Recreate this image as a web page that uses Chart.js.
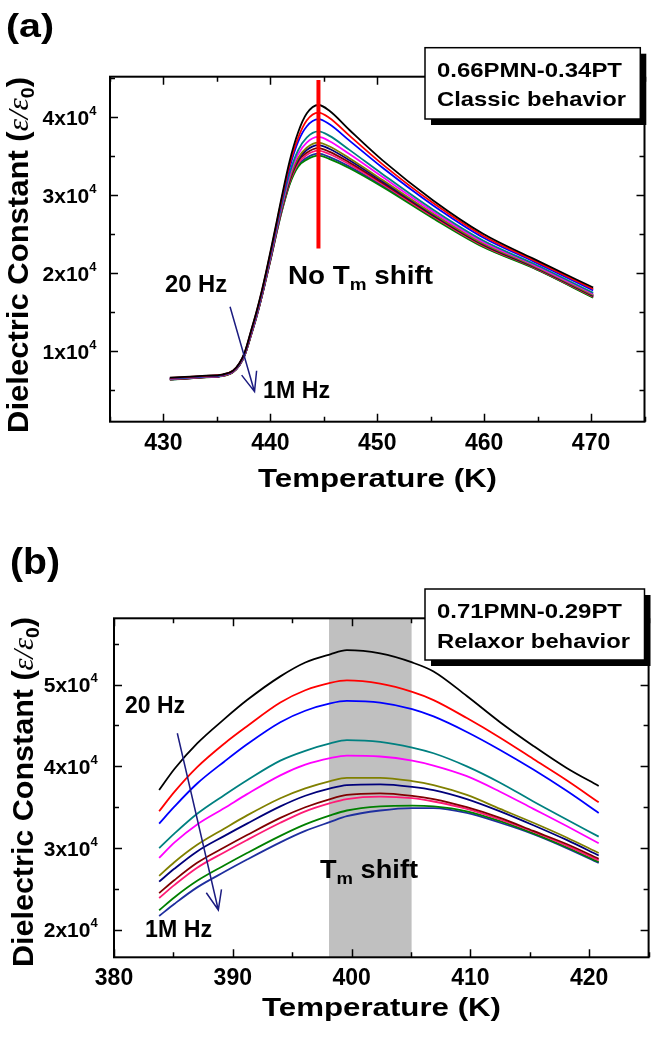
<!DOCTYPE html>
<html>
<head>
<meta charset="utf-8">
<script src="https://cdn.jsdelivr.net/npm/chart.js@4"></script>
<style>
  body { margin: 0; background: #fff; }
  canvas { position: absolute; left: 0; }
</style>
</head>
<body>
<canvas id="chartA" width="652" height="520" style="top:0"></canvas>
<canvas id="chartB" width="652" height="530" style="top:520px"></canvas>
<script>
// Dielectric constant in units of 10^4, curves from 20 Hz (top) to 1M Hz (bottom)

// (a) 0.66PMN-0.34PT
const aTemps = [430.6, 432, 434, 435.5, 436.5, 437.1, 437.6, 438.2, 438.7, 439.2, 439.6, 440.1, 440.6, 441.0, 441.8, 442.6, 443.4, 444.5, 445.5, 447.4, 450.5, 455.2, 459.9, 464.6, 470.2];
const aBlack   = [0.655, 0.665, 0.68, 0.695, 0.745, 0.84, 0.98, 1.26, 1.50, 1.77, 2.01, 2.33, 2.66, 2.93, 3.43, 3.80, 4.04, 4.15, 4.08, 3.83, 3.44, 2.93, 2.50, 2.18, 1.81];
const aRed     = [0.651, 0.661, 0.677, 0.692, 0.742, 0.836, 0.974, 1.251, 1.49, 1.758, 1.997, 2.312, 2.639, 2.903, 3.385, 3.73, 3.952, 4.053, 3.987, 3.757, 3.389, 2.896, 2.475, 2.162, 1.791];
const aBlue    = [0.648, 0.658, 0.674, 0.689, 0.739, 0.832, 0.969, 1.243, 1.48, 1.748, 1.985, 2.296, 2.621, 2.88, 3.346, 3.68, 3.875, 3.968, 3.906, 3.693, 3.345, 2.866, 2.452, 2.146, 1.774];
const aTeal    = [0.642, 0.652, 0.670, 0.685, 0.735, 0.824, 0.959, 1.229, 1.464, 1.728, 1.963, 2.268, 2.587, 2.836, 3.274, 3.57, 3.733, 3.812, 3.758, 3.575, 3.263, 2.81, 2.412, 2.118, 1.742];
const aMagenta = [0.639, 0.649, 0.667, 0.682, 0.732, 0.821, 0.955, 1.222, 1.456, 1.72, 1.953, 2.254, 2.572, 2.817, 3.241, 3.52, 3.668, 3.741, 3.689, 3.521, 3.226, 2.785, 2.393, 2.104, 1.728];
const aOlive   = [0.637, 0.647, 0.665, 0.680, 0.730, 0.818, 0.950, 1.216, 1.448, 1.711, 1.943, 2.241, 2.556, 2.797, 3.208, 3.47, 3.603, 3.669, 3.621, 3.467, 3.188, 2.76, 2.374, 2.09, 1.714];
const aNavy    = [0.635, 0.645, 0.664, 0.679, 0.729, 0.816, 0.948, 1.213, 1.445, 1.707, 1.939, 2.235, 2.549, 2.788, 3.193, 3.45, 3.574, 3.637, 3.59, 3.443, 3.171, 2.748, 2.366, 2.085, 1.707];
const aMaroon  = [0.634, 0.644, 0.663, 0.678, 0.728, 0.815, 0.946, 1.209, 1.441, 1.702, 1.934, 2.228, 2.541, 2.777, 3.175, 3.43, 3.539, 3.598, 3.553, 3.414, 3.151, 2.735, 2.356, 2.078, 1.70];
const aPink    = [0.633, 0.643, 0.662, 0.677, 0.727, 0.813, 0.944, 1.206, 1.437, 1.698, 1.929, 2.222, 2.534, 2.768, 3.16, 3.40, 3.509, 3.565, 3.522, 3.389, 3.134, 2.723, 2.347, 2.072, 1.693];
const aGreen   = [0.63, 0.64, 0.66, 0.675, 0.725, 0.81, 0.94, 1.20, 1.43, 1.69, 1.92, 2.21, 2.52, 2.75, 3.13, 3.36, 3.45, 3.50, 3.46, 3.34, 3.10, 2.70, 2.33, 2.06, 1.68];
const aRoyal   = [0.631, 0.641, 0.661, 0.676, 0.726, 0.811, 0.942, 1.202, 1.433, 1.693, 1.924, 2.215, 2.526, 2.757, 3.142, 3.38, 3.474, 3.526, 3.485, 3.36, 3.114, 2.709, 2.337, 2.065, 1.685];
const aTmLine = 444.5;          // red marker at Tm
const aTmLineRange = [2.31, 4.47];

// (b) 0.71PMN-0.29PT
const bTemps = [383.8, 385.1, 387.0, 389.3, 391.2, 394.0, 396.1, 398.2, 399.6, 402.4, 405.1, 406.9, 409.7, 412.5, 415.3, 418.1, 420.8];
const bBlack   = [3.71, 3.97, 4.28, 4.58, 4.81, 5.10, 5.27, 5.37, 5.42, 5.38, 5.27, 5.16, 4.86, 4.54, 4.25, 3.98, 3.76];
const bRed     = [3.45, 3.69, 3.99, 4.28, 4.49, 4.78, 4.93, 5.02, 5.05, 5.01, 4.91, 4.81, 4.59, 4.35, 4.09, 3.83, 3.56];
const bBlue    = [3.30, 3.51, 3.79, 4.06, 4.27, 4.54, 4.68, 4.77, 4.80, 4.78, 4.70, 4.61, 4.42, 4.20, 3.96, 3.70, 3.43];
const bTeal    = [3.00, 3.18, 3.42, 3.65, 3.83, 4.07, 4.19, 4.28, 4.32, 4.30, 4.23, 4.16, 4.00, 3.80, 3.57, 3.35, 3.14];
const bMagenta = [2.88, 3.07, 3.29, 3.49, 3.66, 3.89, 4.02, 4.10, 4.13, 4.12, 4.07, 4.01, 3.88, 3.69, 3.48, 3.27, 3.06];
const bOlive   = [2.66, 2.83, 3.04, 3.24, 3.40, 3.61, 3.73, 3.82, 3.86, 3.86, 3.82, 3.77, 3.65, 3.48, 3.31, 3.13, 2.94];
const bNavy    = [2.59, 2.75, 2.96, 3.15, 3.30, 3.51, 3.64, 3.73, 3.77, 3.78, 3.75, 3.71, 3.60, 3.45, 3.28, 3.10, 2.91];
const bMaroon  = [2.45, 2.61, 2.82, 3.01, 3.16, 3.37, 3.50, 3.60, 3.65, 3.67, 3.64, 3.60, 3.50, 3.37, 3.21, 3.05, 2.87];
const bPink    = [2.39, 2.55, 2.76, 2.95, 3.10, 3.31, 3.45, 3.55, 3.60, 3.63, 3.61, 3.57, 3.48, 3.35, 3.20, 3.03, 2.85];
const bGreen   = [2.24, 2.40, 2.60, 2.79, 2.94, 3.15, 3.29, 3.40, 3.46, 3.51, 3.52, 3.51, 3.45, 3.33, 3.18, 3.01, 2.83];
const bRoyal   = [2.17, 2.32, 2.52, 2.71, 2.86, 3.07, 3.21, 3.32, 3.39, 3.46, 3.49, 3.49, 3.43, 3.31, 3.17, 3.00, 2.82];
const bBand = [398.1, 405.05];  // Tm shift region

const colors = ['#000000', '#ff0000', '#0000ff', '#008080', '#ff00ff', '#808000', '#00007a', '#800000', '#ff1a75', '#008000', '#1f2f9f'];
const curvesA = [aBlack, aRed, aBlue, aTeal, aMagenta, aOlive, aNavy, aMaroon, aPink, aGreen, aRoyal];
const curvesB = [bBlack, bRed, bBlue, bTeal, bMagenta, bOlive, bNavy, bMaroon, bPink, bGreen, bRoyal];

// arrows (data coordinates): start x, start y, tip x, tip y
const arrowA = [436.23, 1.564, 438.52, 0.475];
const arrowB = [385.33, 4.404, 388.78, 2.243];

const SANS = '"Liberation Sans", Arial, sans-serif';
const SERIF = '"Liberation Serif", "Times New Roman", serif';

// draw a sequence of text pieces, squeezed/stretched to a given width
function drawRuns(ctx, runs, x, baseline, width, angle) {
  ctx.save();
  let total = 0;
  runs.forEach(r => { ctx.font = r.font; r.w = ctx.measureText(r.t).width; total += r.w; });
  const k = width ? width / total : 1;
  ctx.translate(x, baseline);
  if (angle) ctx.rotate(angle);
  ctx.scale(k, 1);
  ctx.fillStyle = '#000';
  ctx.textAlign = 'left';
  ctx.textBaseline = 'alphabetic';
  let cx = 0;
  runs.forEach(r => { ctx.font = r.font; ctx.fillText(r.t, cx, r.dy || 0); cx += r.w; });
  ctx.restore();
  return total * k;
}

function bold(size) { return 'bold ' + size + 'px ' + SANS; }

function drawArrow(ctx, x1, y1, x2, y2) {
  ctx.save();
  ctx.strokeStyle = '#1c1c80';
  ctx.lineWidth = 1.5;
  ctx.beginPath();
  ctx.moveTo(x1, y1);
  ctx.lineTo(x2, y2);
  const ang = Math.atan2(y1 - y2, x1 - x2);
  const len = 21;
  ctx.moveTo(x2 + len * Math.cos(ang + 0.38), y2 + len * Math.sin(ang + 0.38));
  ctx.lineTo(x2, y2);
  ctx.lineTo(x2 + len * Math.cos(ang - 0.38), y2 + len * Math.sin(ang - 0.38));
  ctx.stroke();
  ctx.restore();
}

// axes frame with inward ticks on all four sides + tick labels
function drawFrame(chart, cfg) {
  const { ctx, chartArea: a, scales: { x, y } } = chart;
  ctx.save();
  ctx.strokeStyle = '#000';
  ctx.lineWidth = 1.5;
  ctx.beginPath();
  for (let v = Math.ceil(x.min / 5) * 5; v <= x.max + 1e-9; v += 5) {
    const px = Math.round(x.getPixelForValue(v)) + 0.5;
    const len = v % 10 === 0 ? 8 : 5;
    ctx.moveTo(px, a.bottom); ctx.lineTo(px, a.bottom - len);
    ctx.moveTo(px, a.top); ctx.lineTo(px, a.top + len);
  }
  for (let v = Math.ceil(y.min * 2) / 2; v <= y.max + 1e-9; v += 0.5) {
    const py = Math.round(y.getPixelForValue(v)) + 0.5;
    const len = Number.isInteger(v) ? 8 : 5;
    ctx.moveTo(a.left, py); ctx.lineTo(a.left + len, py);
    ctx.moveTo(a.right, py); ctx.lineTo(a.right - len, py);
  }
  ctx.stroke();
  ctx.lineWidth = 2;
  ctx.strokeRect(a.left, a.top, a.right - a.left, a.bottom - a.top);

  // x tick labels
  ctx.fillStyle = '#000';
  ctx.font = bold(23);
  ctx.textAlign = 'center';
  ctx.textBaseline = 'alphabetic';
  for (let v = Math.ceil(x.min / 10) * 10; v <= x.max; v += 10) {
    ctx.fillText(String(v), x.getPixelForValue(v), cfg.xLabelBase);
  }
  // y tick labels  Nx10^4
  for (let v = Math.ceil(y.min); v <= y.max; v++) {
    const py = y.getPixelForValue(v);
    const runs = [{ t: v + 'x10', font: bold(21) }, { t: '4', font: bold(13), dy: -10 }];
    ctx.font = bold(21);
    const w = ctx.measureText(v + 'x10').width;
    ctx.font = bold(13);
    const w2 = ctx.measureText('4').width;
    drawRuns(ctx, runs, cfg.yLabelRight - w - w2, py + cfg.yLabelDy, 0);
  }
  ctx.restore();
}

function drawBox(ctx, bx, by, bw, bh, line1, line2, w1, w2) {
  ctx.save();
  ctx.fillStyle = '#000';
  ctx.fillRect(bx + 6, by + 6, bw, bh);
  ctx.fillStyle = '#fff';
  ctx.fillRect(bx, by, bw, bh);
  ctx.strokeStyle = '#000';
  ctx.lineWidth = 1.5;
  ctx.strokeRect(bx, by, bw, bh);
  ctx.restore();
  drawRuns(ctx, [{ t: line1, font: bold(21) }], bx + 12, by + 29, w1);
  drawRuns(ctx, [{ t: line2, font: bold(21) }], bx + 12, by + 58.5, w2);
}

function yTitle(ctx, bx, startY, length) {
  drawRuns(ctx, [
    { t: 'Dielectric Constant (', font: bold(30) },
    { t: '\u03b5/\u03b5', font: 'italic 30px ' + SERIF },
    { t: '0', font: bold(19), dy: 6 },
    { t: ')', font: bold(30) }
  ], bx, startY, length, -Math.PI / 2);
}

function xTitle(ctx, cx, base) {
  drawRuns(ctx, [{ t: 'Temperature (K)', font: bold(26) }], cx - 119.5, base, 239);
}

function makeDatasets(temps, curves) {
  return curves.map((vals, i) => ({
    data: temps.map((t, j) => ({ x: t, y: vals[j] })),
    borderColor: colors[i],
    borderWidth: 1.8,
    fill: false,
    pointRadius: 0,
    cubicInterpolationMode: 'monotone'
  }));
}

const baseOptions = (xr, yr, padding) => ({
  responsive: false,
  animation: false,
  devicePixelRatio: 1,
  layout: { padding: padding },
  plugins: { legend: { display: false }, tooltip: { enabled: false } },
  scales: {
    x: { type: 'linear', min: xr[0], max: xr[1], display: false },
    y: { type: 'linear', min: yr[0], max: yr[1], display: false }
  }
});

// ---------- chart (a) ----------
const dsA = makeDatasets(aTemps, curvesA);
dsA.push({
  data: [{ x: aTmLine, y: aTmLineRange[0] }, { x: aTmLine, y: aTmLineRange[1] }],
  borderColor: '#ff0000',
  borderWidth: 4,
  pointRadius: 0,
  tension: 0,
  order: -1
});

new Chart(document.getElementById('chartA'), {
  type: 'line',
  data: { datasets: dsA },
  options: baseOptions([425, 475], [0.09, 4.513], { left: 110, top: 76.7, right: 7.5, bottom: 98.3 }),
  plugins: [{
    id: 'decorA',
    afterDraw(chart) {
      const { ctx, scales: { x, y } } = chart;
      drawFrame(chart, { xLabelBase: 450, yLabelRight: 96.5, yLabelDy: 8.5 });
      drawBox(ctx, 425, 47.7, 215.3, 71.3, '0.66PMN-0.34PT', 'Classic behavior', 185, 189);
      drawRuns(ctx, [{ t: '(a)', font: bold(34) }], 6, 37, 48);
      drawRuns(ctx, [
        { t: 'No T', font: bold(25) },
        { t: 'm', font: bold(17), dy: 6 },
        { t: ' shift', font: bold(25) }
      ], 288, 284, 145);
      drawRuns(ctx, [{ t: '20 Hz', font: bold(23) }], 165, 292, 62);
      drawRuns(ctx, [{ t: '1M Hz', font: bold(23) }], 263, 398, 67);
      drawArrow(ctx, x.getPixelForValue(arrowA[0]), y.getPixelForValue(arrowA[1]),
        x.getPixelForValue(arrowA[2]), y.getPixelForValue(arrowA[3]));
      xTitle(ctx, 377.5, 487);
      yTitle(ctx, 28, 433, 356);
    }
  }]
});

// ---------- chart (b) ----------
new Chart(document.getElementById('chartB'), {
  type: 'line',
  data: { datasets: makeDatasets(bTemps, curvesB) },
  options: baseOptions([380, 425], [1.665, 5.81], { left: 114, top: 98.3, right: 3.4, bottom: 92.7 }),
  plugins: [{
    id: 'decorB',
    beforeDatasetsDraw(chart) {
      const { ctx, chartArea: a, scales: { x } } = chart;
      const x1 = x.getPixelForValue(bBand[0]);
      const x2 = x.getPixelForValue(bBand[1]);
      ctx.save();
      ctx.fillStyle = '#c0c0c0';
      ctx.fillRect(x1, a.top, x2 - x1, a.bottom - a.top);
      ctx.restore();
    },
    afterDraw(chart) {
      const { ctx, scales: { x, y } } = chart;
      drawFrame(chart, { xLabelBase: 465, yLabelRight: 97.7, yLabelDy: 7.5 });
      drawBox(ctx, 425, 69, 219.5, 71, '0.71PMN-0.29PT', 'Relaxor behavior', 185, 193);
      drawRuns(ctx, [{ t: '(b)', font: bold(36) }], 10, 54, 50);
      drawRuns(ctx, [
        { t: 'T', font: bold(25) },
        { t: 'm', font: bold(17), dy: 6 },
        { t: ' shift', font: bold(25) }
      ], 320, 358, 98);
      drawRuns(ctx, [{ t: '20 Hz', font: bold(23) }], 125, 193, 60);
      drawRuns(ctx, [{ t: '1M Hz', font: bold(23) }], 145, 417, 67);
      drawArrow(ctx, x.getPixelForValue(arrowB[0]), y.getPixelForValue(arrowB[1]),
        x.getPixelForValue(arrowB[2]), y.getPixelForValue(arrowB[3]));
      xTitle(ctx, 381.5, 496);
      yTitle(ctx, 32.5, 447, 350);
    }
  }]
});
</script>
</body>
</html>
